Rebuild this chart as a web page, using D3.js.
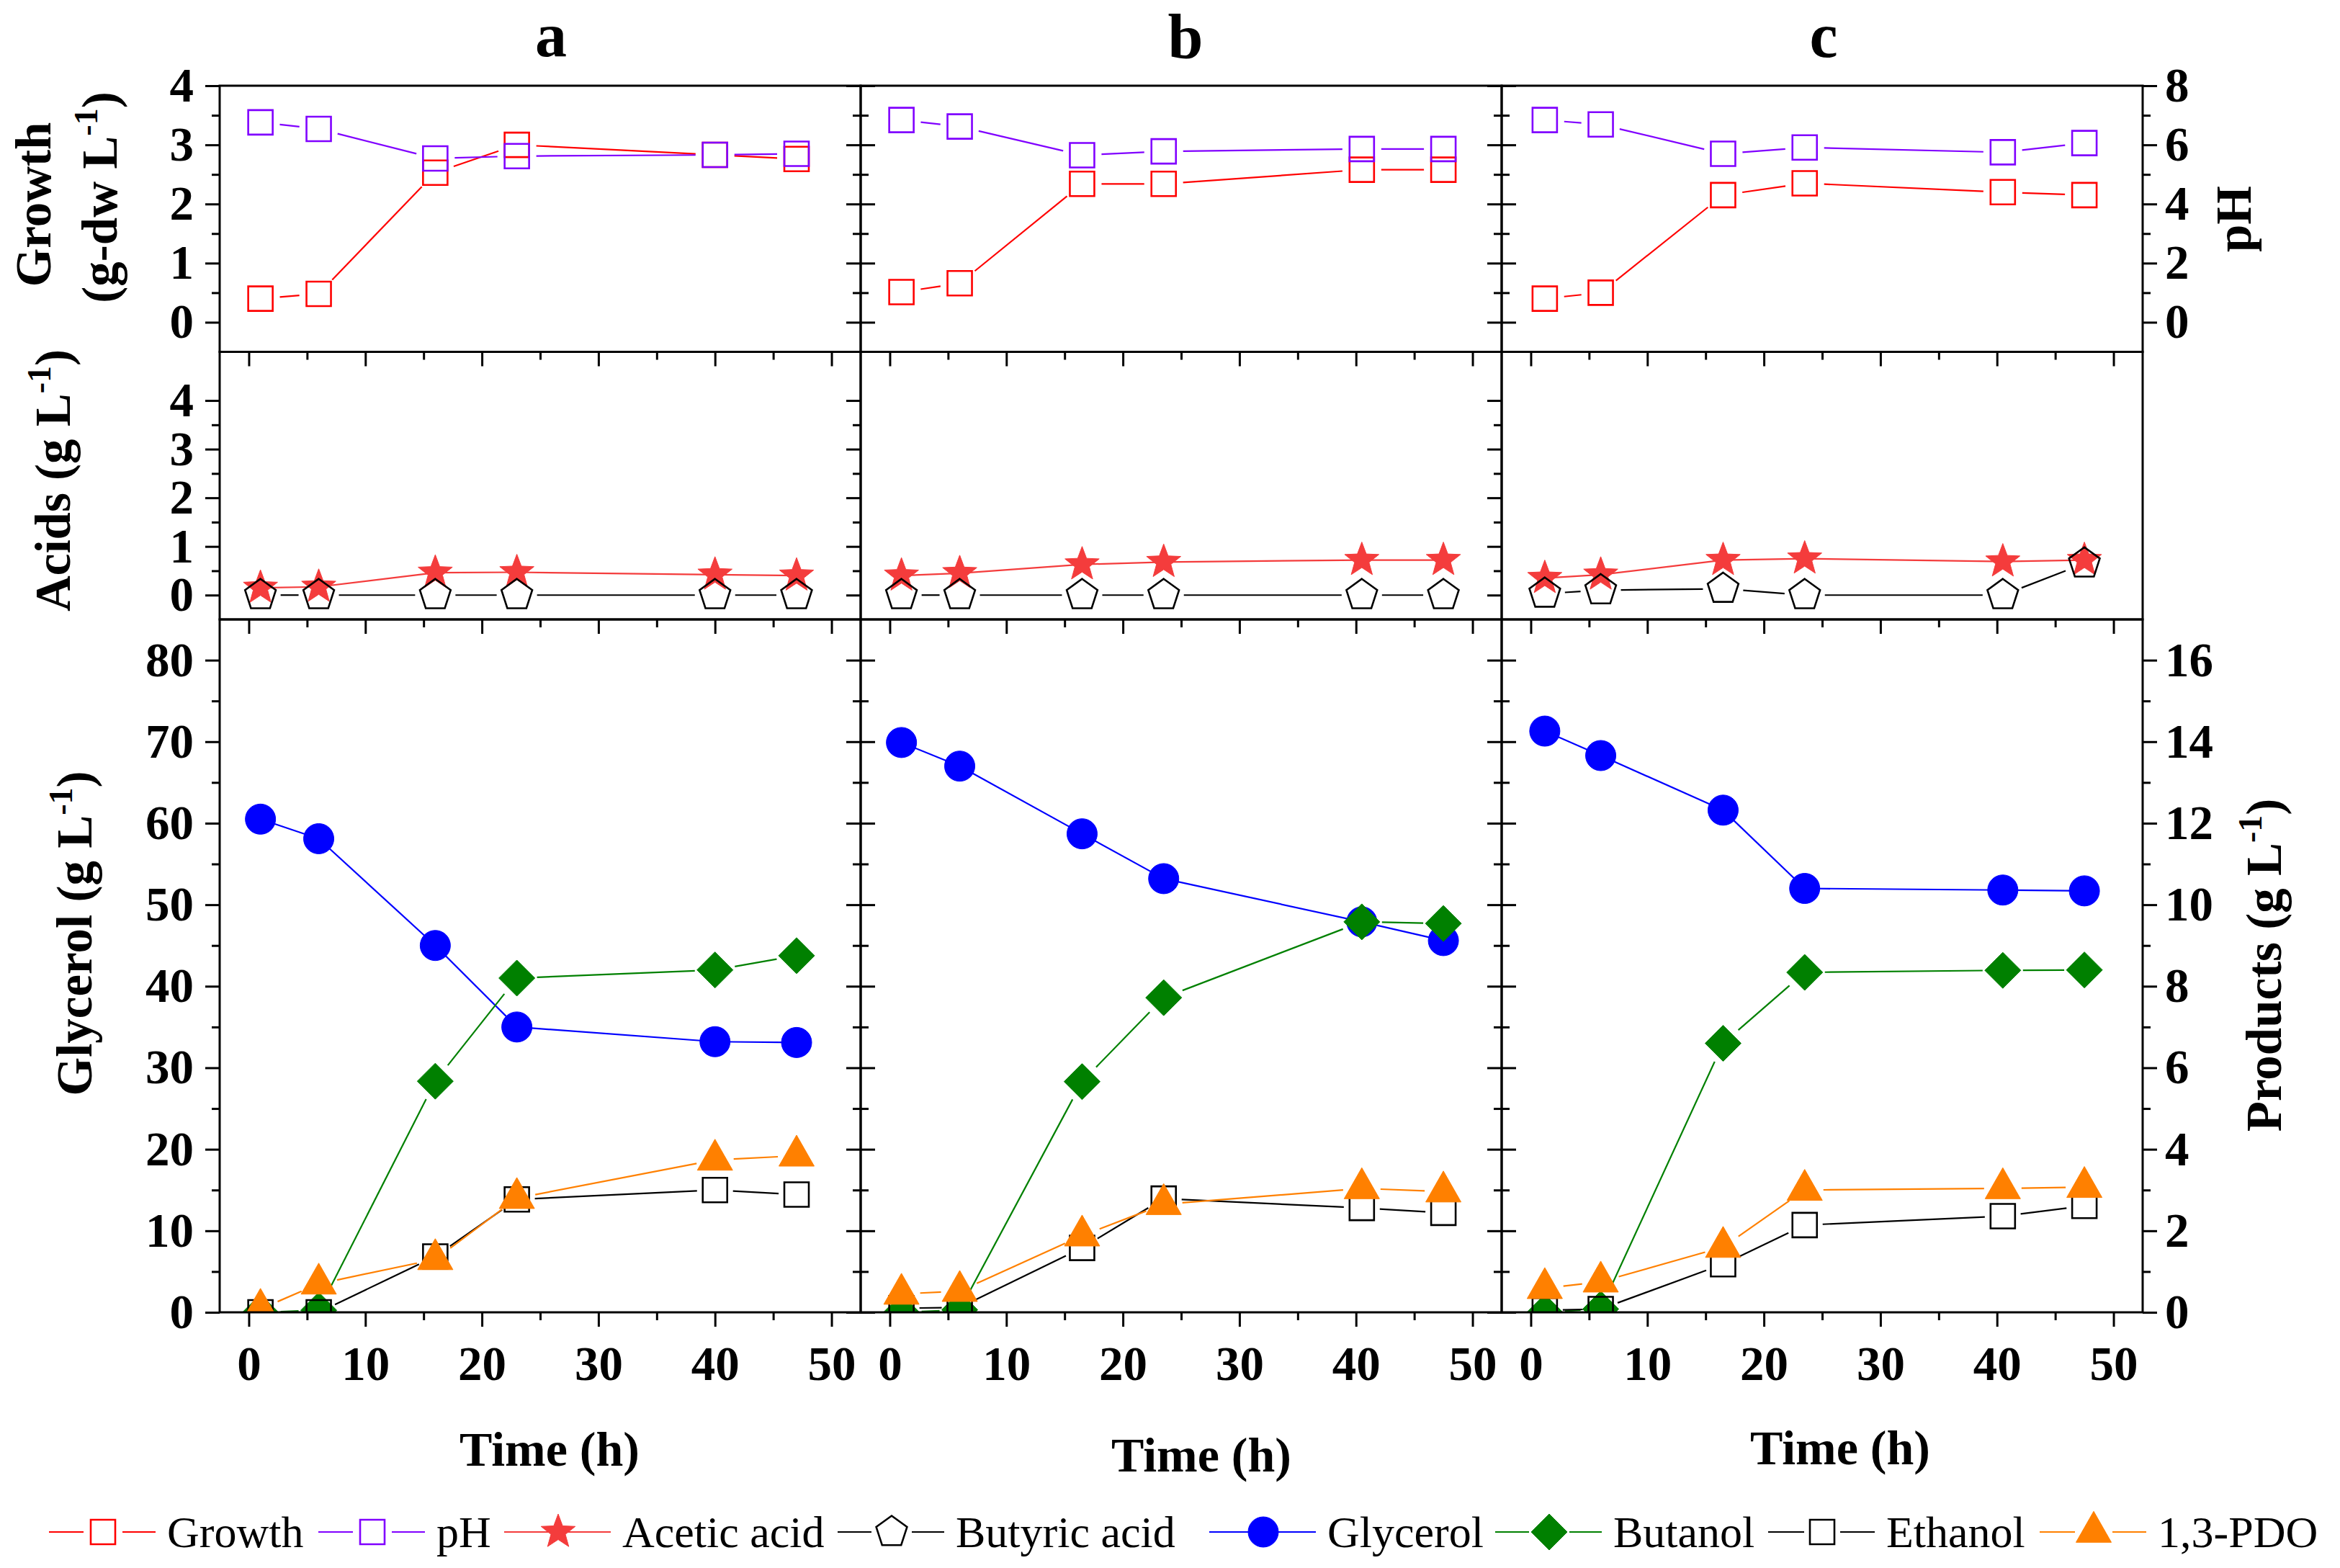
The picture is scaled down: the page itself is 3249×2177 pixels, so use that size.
<!DOCTYPE html>
<html>
<head>
<meta charset="utf-8">
<script src="https://cdn.jsdelivr.net/npm/d3@7"></script>
<style>
  body { margin: 0; background: #fff; }
</style>
</head>
<body>
<svg id="chart" width="3249" height="2177"></svg>
<script>
// ---- data ----
const panelNames = ["a", "b", "c"];
const seriesNames = ["Growth", "pH", "Acetic acid", "Butyric acid", "Glycerol", "Butanol", "Ethanol", "1,3-PDO"];

const timeA = [1, 6, 16, 23, 40, 47];
const timeB = [1, 6, 16.5, 23.5, 40.5, 47.5];
const timeC = [1.2, 6, 16.5, 23.5, 40.5, 47.5];

// growth (g-dw/L) and pH
const growthA = [0.40, 0.48, 2.53, 3.00, 2.83, 2.76];
const growthB = [0.51, 0.66, 2.34, 2.34, 2.58, 2.58];
const growthC = [0.40, 0.50, 2.15, 2.35, 2.20, 2.15];
const phA = [6.76, 6.54, 5.54, 5.62, 5.66, 5.70];
const phB = [6.84, 6.62, 5.65, 5.78, 5.86, 5.86];
const phC = [6.84, 6.69, 5.70, 5.91, 5.75, 6.06];

// acids (g/L)
const aceticA = [0.15, 0.17, 0.46, 0.47, 0.42, 0.40];
const aceticB = [0.40, 0.45, 0.63, 0.68, 0.72, 0.72];
const aceticC = [0.35, 0.42, 0.72, 0.75, 0.69, 0.72];
const butyricA = [0, 0, 0, 0, 0, 0];
const butyricB = [0, 0, 0, 0, 0, 0];
const butyricC = [0.03, 0.10, 0.13, 0, 0, 0.65];

// glycerol (g/L, left axis) and products (g/L, right axis)
const glycerolA = [60.5, 58.1, 45.0, 35.0, 33.2, 33.1];
const glycerolB = [69.9, 67.0, 58.7, 53.2, 47.9, 45.6];
const glycerolC = [71.3, 68.3, 61.6, 52.0, 51.8, 51.7];
const butanolA = [0, 0.05, 5.67, 8.20, 8.40, 8.75];
const butanolB = [0, 0.06, 5.66, 7.72, 9.58, 9.54];
const butanolC = [0, 0.08, 6.60, 8.34, 8.39, 8.40];
const ethanolA = [0, 0, 1.37, 2.77, 3.00, 2.89];
const ethanolB = [0.10, 0.12, 1.58, 2.79, 2.56, 2.44];
const ethanolC = [0.05, 0.08, 1.18, 2.14, 2.36, 2.61];
const pdoA = [0.08, 0.70, 1.30, 2.80, 3.74, 3.84];
const pdoB = [0.45, 0.52, 1.88, 2.65, 3.04, 2.96];
const pdoC = [0.59, 0.75, 1.60, 3.00, 3.04, 3.07];

// tick values
const xTicks = [0, 10, 20, 30, 40, 50];
const growthTicks = [0, 1, 2, 3, 4];
const phTicks = [0, 2, 4, 6, 8];
const acidTicks = [0, 1, 2, 3, 4];
const glycerolTicks = [0, 10, 20, 30, 40, 50, 60, 70, 80];
const productTicks = [0, 2, 4, 6, 8, 10, 12, 14, 16];

const times = [timeA, timeB, timeC];
const growth = [growthA, growthB, growthC];
const ph = [phA, phB, phC];
const acetic = [aceticA, aceticB, aceticC];
const butyric = [butyricA, butyricB, butyricC];
const glycerol = [glycerolA, glycerolB, glycerolC];
const butanol = [butanolA, butanolB, butanolC];
const ethanol = [ethanolA, ethanolB, ethanolC];
const pdo = [pdoA, pdoB, pdoC];

// ---- layout ----
const svg = d3.select("#chart");
const FONT = "Liberation Serif";
const colLeft = [305, 1195, 2085], colWidth = 890;
const rows = { top: [119, 488.5], acid: [488.5, 860], main: [860, 1822] };

// marker shapes
const shapes = {
  square: s => `M${-s/2},${-s/2}h${s}v${s}h${-s}Z`,
  circle: r => `M${r},0A${r},${r} 0 1,1 ${-r},0A${r},${r} 0 1,1 ${r},0Z`,
  diamond: (w, h) => `M0,${-h/2}L${w/2},0L0,${h/2}L${-w/2},0Z`,
  triangle: (w, h) => `M0,${-2*h/3}L${w/2},${h/3}L${-w/2},${h/3}Z`,
  star: (R, r) => {
    const p = [];
    for (let k = 0; k < 10; k++) {
      const a = -Math.PI / 2 + k * Math.PI / 5, rr = k % 2 ? r : R;
      p.push([rr * Math.cos(a), rr * Math.sin(a)]);
    }
    return "M" + p.join("L") + "Z";
  },
  pentagon: R => {
    const p = [];
    for (let k = 0; k < 5; k++) {
      const a = -Math.PI / 2 + k * 2 * Math.PI / 5;
      p.push([R * Math.cos(a), R * Math.sin(a)]);
    }
    return "M" + p.join("L") + "Z";
  }
};

const styles = {
  growth:   { color: "#ff0000", d: shapes.square(34), fill: "none", gap: 27 },
  ph:       { color: "#8000ff", d: shapes.square(34), fill: "none", gap: 27 },
  acetic:   { color: "#f43c3c", d: shapes.star(25, 10.5), fill: "#f43c3c", gap: 0 },
  butyric:  { color: "#000000", d: shapes.pentagon(22.5), fill: "none", gap: 28 },
  glycerol: { color: "#0000ff", d: shapes.circle(21), fill: "#0000ff", gap: 0 },
  butanol:  { color: "#008000", d: shapes.diamond(50, 50), fill: "#008000", gap: 28 },
  ethanol:  { color: "#000000", d: shapes.square(34), fill: "none", gap: 25 },
  pdo:      { color: "#ff8000", d: shapes.triangle(49, 43), fill: "#ff8000", gap: 26 }
};

function drawSeries(g, xs, ys, x, y, st) {
  const pts = xs.map((t, i) => [x(t), y(ys[i])]);
  for (let i = 0; i < pts.length - 1; i++) {
    const [x1, y1] = pts[i], [x2, y2] = pts[i + 1];
    const len = Math.hypot(x2 - x1, y2 - y1);
    if (len <= 2 * st.gap + 2) continue;
    const ux = (x2 - x1) / len, uy = (y2 - y1) / len;
    g.append("line")
      .attr("x1", x1 + ux * st.gap).attr("y1", y1 + uy * st.gap)
      .attr("x2", x2 - ux * st.gap).attr("y2", y2 - uy * st.gap)
      .attr("stroke", st.color).attr("stroke-width", 2.2);
  }
  g.selectAll(null).data(pts).enter().append("path")
    .attr("transform", d => `translate(${d[0]},${d[1]})`)
    .attr("d", st.d)
    .attr("fill", st.fill)
    .attr("stroke", st.color)
    .attr("stroke-width", st.fill === "none" ? 2.6 : 1);
}

function styleAxis(g) {
  g.select(".domain").remove();
  g.attr("font-family", FONT).attr("font-size", null);
  g.selectAll("line").attr("stroke", "#000").attr("stroke-width", 3);
  g.selectAll("text").attr("font-family", FONT).attr("font-size", 67)
    .attr("font-weight", "bold").attr("fill", "#000");
}

function minors(majors, step) {
  return majors.map(v => v + step / 2).slice(0, -1);
}

// vertical axes: left side always, right side optional
function yAxes(g, x0, yL, yR, majL, majR, showL, showR, rightTicks) {
  const fmt = d3.format("d");
  g.append("g").attr("transform", `translate(${x0},0)`)
    .call(d3.axisLeft(yL).tickValues(majL).tickSize(20).tickPadding(16).tickFormat(showL ? fmt : ""))
    .call(styleAxis);
  g.append("g").attr("transform", `translate(${x0},0)`)
    .call(d3.axisLeft(yL).tickValues(minors(majL, majL[1] - majL[0])).tickSize(11).tickFormat(""))
    .call(styleAxis);
  if (!rightTicks) return;
  g.append("g").attr("transform", `translate(${x0 + colWidth},0)`)
    .call(d3.axisRight(yR).tickValues(majR).tickSize(20).tickPadding(11).tickFormat(showR ? fmt : ""))
    .call(styleAxis);
  g.append("g").attr("transform", `translate(${x0 + colWidth},0)`)
    .call(d3.axisRight(yR).tickValues(minors(majR, majR[1] - majR[0])).tickSize(11).tickFormat(""))
    .call(styleAxis);
}

function xAxis(g, x, yPos, labels) {
  g.append("g").attr("transform", `translate(0,${yPos})`)
    .call(d3.axisBottom(x).tickValues(xTicks).tickSize(20).tickPadding(26).tickFormat(labels ? d3.format("d") : ""))
    .call(styleAxis);
  g.append("g").attr("transform", `translate(0,${yPos})`)
    .call(d3.axisBottom(x).tickValues(minors(xTicks, 10)).tickSize(11).tickFormat(""))
    .call(styleAxis);
}

function frame(g, x0, r) {
  g.append("rect").attr("x", x0).attr("y", r[0]).attr("width", colWidth).attr("height", r[1] - r[0])
    .attr("fill", "none").attr("stroke", "#000").attr("stroke-width", 3);
}

const letterPos = [[765, 78], [1646, 81], [2532, 79]];
const timeLabelPos = [[763, 2035], [1668, 2043], [2555, 2033]];

panelNames.forEach((name, i) => {
  const x0 = colLeft[i];
  const g = svg.append("g").attr("class", "panel-" + name);
  const x = d3.scaleLinear().domain([-2.5, 52.5]).range([x0, x0 + colWidth]);

  const yGrowth = d3.scaleLinear().domain([-0.5, 4]).range([rows.top[1], rows.top[0]]);
  const yPh = d3.scaleLinear().domain([-1, 8]).range([rows.top[1], rows.top[0]]);
  const yAcid = d3.scaleLinear().domain([-0.5, 5]).range([rows.acid[1], rows.acid[0]]);
  const yGly = d3.scaleLinear().domain([0, 85]).range([rows.main[1], rows.main[0]]);
  const yProd = d3.scaleLinear().domain([0, 17]).range([rows.main[1], rows.main[0]]);

  const clipId = "clip-" + name;
  svg.append("clipPath").attr("id", clipId).append("rect")
    .attr("x", x0).attr("y", rows.main[0]).attr("width", colWidth).attr("height", rows.main[1] - rows.main[0]);

  // top: growth and pH
  const gTop = g.append("g");
  drawSeries(gTop, times[i], growth[i], x, yGrowth, styles.growth);
  drawSeries(gTop, times[i], ph[i], x, yPh, styles.ph);

  // middle: acids
  const gAcid = g.append("g");
  drawSeries(gAcid, times[i], acetic[i], x, yAcid, styles.acetic);
  drawSeries(gAcid, times[i], butyric[i], x, yAcid, styles.butyric);

  // bottom: glycerol and products
  const gMain = g.append("g").attr("clip-path", `url(#${clipId})`);
  drawSeries(gMain, times[i], glycerol[i], x, yGly, styles.glycerol);
  drawSeries(gMain, times[i], butanol[i], x, yProd, styles.butanol);
  drawSeries(gMain, times[i], ethanol[i], x, yProd, styles.ethanol);
  drawSeries(gMain, times[i], pdo[i], x, yProd, styles.pdo);

  // axes
  yAxes(g, x0, yGrowth, yPh, growthTicks, phTicks, i === 0, i === 2, true);
  yAxes(g, x0, yAcid, yAcid, acidTicks, acidTicks, i === 0, false, false);
  yAxes(g, x0, yGly, yProd, glycerolTicks, productTicks, i === 0, i === 2, true);
  xAxis(g, x, rows.top[1], false);
  xAxis(g, x, rows.acid[1], false);
  xAxis(g, x, rows.main[1], true);
  frame(g, x0, rows.top);
  frame(g, x0, rows.acid);
  frame(g, x0, rows.main);

  // panel letter
  g.append("text").attr("x", letterPos[i][0]).attr("y", letterPos[i][1])
    .attr("font-family", FONT)
    .attr("text-anchor", "middle").attr("font-size", 88).attr("font-weight", "bold").text(name);

  // x title
  g.append("text").attr("x", timeLabelPos[i][0]).attr("y", timeLabelPos[i][1])
    .attr("font-family", FONT)
    .attr("text-anchor", "middle").attr("font-size", 68).attr("font-weight", "bold").text("Time (h)");
});

// rotated axis titles, with a superscript -1
function vTitle(cx, cy, main, sup, tail) {
  const t = svg.append("text")
    .attr("transform", `translate(${cx},${cy}) rotate(-90)`)
    .attr("font-family", FONT)
    .attr("text-anchor", "middle").attr("dy", "0.35em")
    .attr("font-size", 69).attr("font-weight", "bold");
  t.append("tspan").text(main);
  if (sup) {
    t.append("tspan").attr("font-size", 46).attr("dy", -27).text(sup);
    t.append("tspan").attr("dy", 27).text(tail);
  }
}
vTitle(46, 284, "Growth");
vTitle(138, 274, "(g-dw L", "-1", ")");
vTitle(73, 667, "Acids (g L", "-1", ")");
vTitle(103, 1296, "Glycerol (g L", "-1", ")");
vTitle(3101, 304, "pH");
vTitle(3143, 1340, "Products (g L", "-1", ")");

// legend
const legendKeys = ["growth", "ph", "acetic", "butyric", "glycerol", "butanol", "ethanol", "pdo"];
const legendStart = [68, 442, 700, 1163, 1679, 2076, 2455, 2832];
const legY = 2127;
const leg = svg.append("g").attr("class", "legend");
legendKeys.forEach((k, i) => {
  const st = styles[k];
  const x0 = legendStart[i], cx = x0 + 75, x1 = x0 + 148;
  const gap = st.gap;
  leg.append("line").attr("x1", x0).attr("x2", cx - gap).attr("y1", legY).attr("y2", legY)
    .attr("stroke", st.color).attr("stroke-width", 2.2);
  leg.append("line").attr("x1", cx + gap).attr("x2", x1).attr("y1", legY).attr("y2", legY)
    .attr("stroke", st.color).attr("stroke-width", 2.2);
  leg.append("path").attr("transform", `translate(${cx},${legY})`).attr("d", st.d)
    .attr("fill", st.fill).attr("stroke", st.color).attr("stroke-width", st.fill === "none" ? 2.6 : 1);
  leg.append("text").attr("x", x1 + 16).attr("y", legY + 21)
    .attr("font-family", FONT)
    .attr("font-size", 62).text(seriesNames[i]);
});
</script>
</body>
</html>
